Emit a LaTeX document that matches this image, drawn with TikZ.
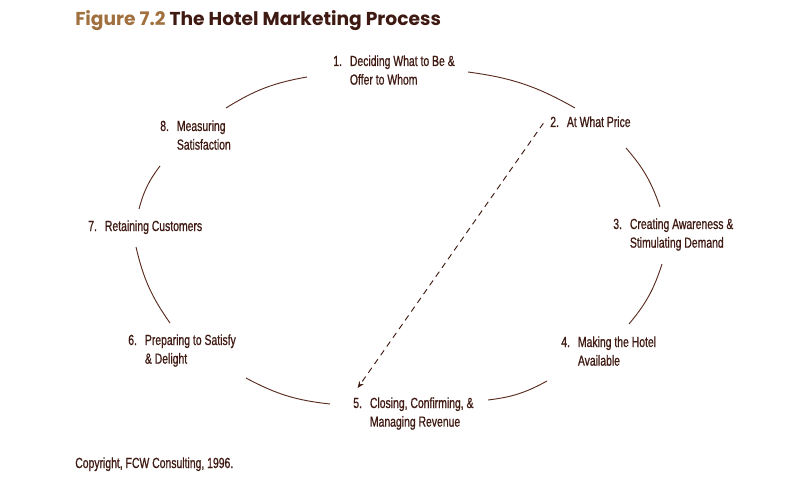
\documentclass[tikz,border=0pt]{standalone}
\usepackage{fontspec}
\setmainfont{Liberation Sans}[FakeStretch=0.71,FakeBold=0.8]
\newfontfamily\titlefont{Poppins}
\usepackage{xcolor}
\usepackage{tikz}
\usetikzlibrary{arrows.meta}

\definecolor{hotelbrown}{HTML}{3F1A12}
\definecolor{hoteltan}{HTML}{A0703F}
\definecolor{hotelline}{HTML}{5A2C20}

% number in front, text lines indented under it
\newcommand{\stagetext}[2]{%
  \begin{tabular}[t]{@{}p{12.5pt}@{}l@{}}#1&\begin{tabular}[t]{@{}l@{}}#2\end{tabular}\end{tabular}}

\tikzset{
    stage/.style={
        anchor=base west,
        inner sep=0pt,
        text=hotelbrown,
        font=\fontsize{11}{14}\selectfont
    },
    cycleline/.style={
        draw=hotelline,
        line width=0.7pt
    },
    flowarrow/.style={
        draw=hotelbrown,
        line width=0.7pt,
        dash pattern=on 4.5pt off 3.5pt,
        -{Stealth[length=5pt,width=4pt]}
    }
}

\begin{document}
\begin{tikzpicture}[x=0.75pt,y=-0.75pt]
    \useasboundingbox (0,0) rectangle (787,488);

    % title
    \node[
        anchor=base west,
        inner sep=0pt,
        text=hotelbrown,
        font=\titlefont\bfseries\fontsize{14}{16}\selectfont
    ] (title) at (75,26) {\textcolor{hoteltan}{Figure 7.2} The Hotel Marketing Process};

    % the eight stages
    \node[stage] (s1) at (333,66) {\stagetext{1.}{Deciding What to Be \&\\Offer to Whom}};
    \node[stage] (s2) at (550,127) {\stagetext{2.}{At What Price}};
    \node[stage] (s3) at (613,229) {\stagetext{3.}{Creating Awareness \&\\Stimulating Demand}};
    \node[stage] (s4) at (561,347) {\stagetext{4.}{Making the Hotel\\Available}};
    \node[stage] (s5) at (353,408) {\stagetext{5.}{Closing, Confirming, \&\\Managing Revenue}};
    \node[stage] (s6) at (128,345) {\stagetext{6.}{Preparing to Satisfy\\\& Delight}};
    \node[stage] (s7) at (88,231) {\stagetext{7.}{Retaining Customers}};
    \node[stage] (s8) at (160,131) {\stagetext{8.}{Measuring\\Satisfaction}};

    % ends of the arcs between the stages
    \coordinate (a12) at (468,72);  \coordinate (b12) at (575,108);
    \coordinate (a23) at (626,148); \coordinate (b23) at (660,207);
    \coordinate (a34) at (662,264); \coordinate (b34) at (629,324);
    \coordinate (a45) at (547,381); \coordinate (b45) at (488,400);
    \coordinate (a56) at (330,404); \coordinate (b56) at (246,378);
    \coordinate (a67) at (170,323); \coordinate (b67) at (136,247);
    \coordinate (a78) at (139,209); \coordinate (b78) at (160,166);
    \coordinate (a81) at (226,108); \coordinate (b81) at (307,77);

    \foreach \from/\to in {a12/b12,a23/b23,a34/b34,a45/b45,a56/b56,a67/b67,a78/b78,a81/b81}
        \draw[cycleline] (\from) to[bend left=11] (\to);

    % shortcut from price to closing
    \draw[flowarrow] ([xshift=-5pt]s2.west) -- ([shift={(3.5pt,5pt)}]s5.north west);

    \node[stage] (copy) at (75,468) {Copyright, FCW Consulting, 1996.};
\end{tikzpicture}
\end{document}
